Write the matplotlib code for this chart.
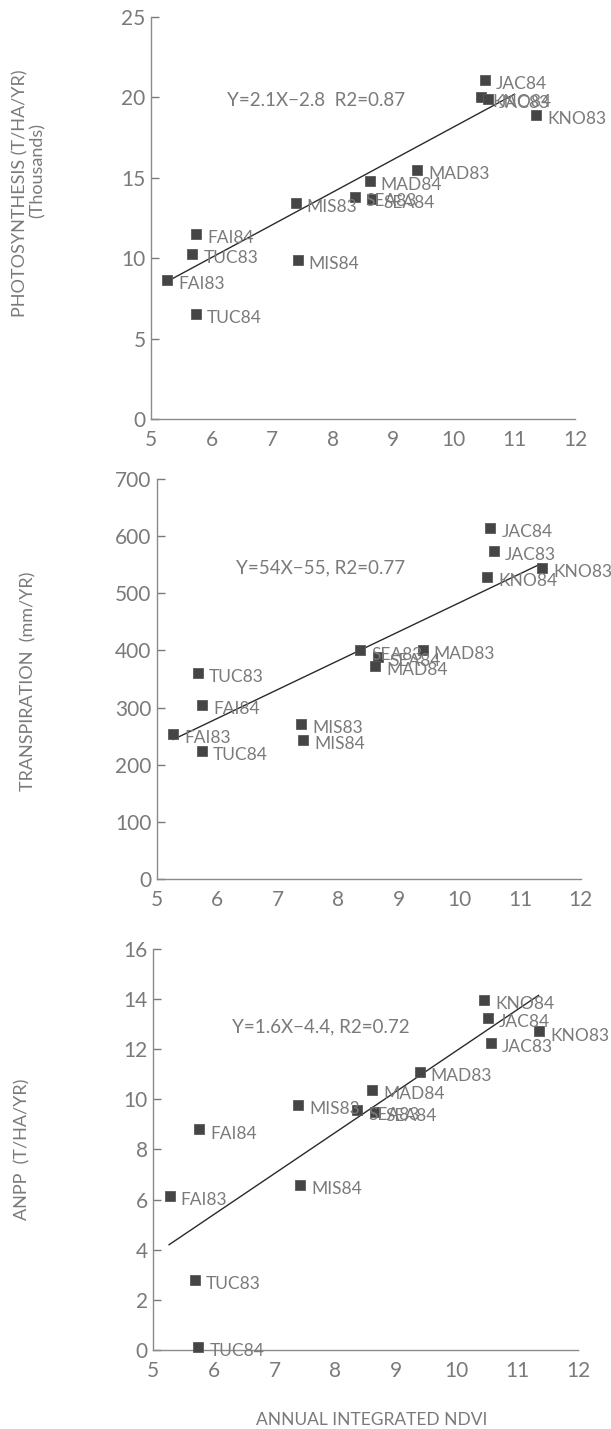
import numpy as np
import matplotlib
matplotlib.use("Agg")
import matplotlib.pyplot as plt

plt.rcParams['font.family'] = ['Lato', 'DejaVu Sans']

# Datos
sites = ["FAI83", "FAI84", "TUC83", "TUC84", "MIS83", "MIS84", "SEA83",
         "SEA84", "MAD83", "MAD84", "KNO83", "KNO84", "JAC83", "JAC84"]
ndvi = [5.27, 5.75, 5.68, 5.74, 7.39, 7.42, 8.36,
        8.65, 9.39, 8.61, 11.36, 10.45, 10.56, 10.51]

photo = [8.63, 11.5, 10.24, 6.51, 13.45, 9.89, 13.8,
         13.7, 15.5, 14.8, 18.9, 20.0, 19.9, 21.1]
transp = [254, 304, 361, 224, 272, 244, 400,
          389, 401, 373, 544, 529, 574, 615]
anpp = [6.14, 8.80, 2.81, 0.11, 9.77, 6.58, 9.56,
        9.51, 11.08, 10.37, 12.71, 13.98, 12.24, 13.24]

# rectas de regresion (extremos leidos)
fit1_x, fit1_y = [5.34, 11.0], [8.7, 20.2]
fit2_x, fit2_y = [5.27, 11.33], [244, 551]
fit3_x, fit3_y = [5.26, 11.35], [4.2, 14.15]

eq1 = "Y=2.1X\u22122.8  R2=0.87"
eq2 = "Y=54X\u221255, R2=0.77"
eq3 = "Y=1.6X\u22124.4, R2=0.72"

GRIS = "#7a7a7a"
EJE = "#8a8a8a"

fig = plt.figure(figsize=(6.11, 14.29), dpi=100)

paneles = [
    # rect, y, recta, ylim, yticks, ecuacion, posicion
    ([0.2471, 0.7068, 0.694, 0.2813], photo, (fit1_x, fit1_y), 25, range(0, 26, 5), eq1, (7.73, 19.8)),
    ([0.2565, 0.3849, 0.694, 0.2799], transp, (fit2_x, fit2_y), 700, range(0, 701, 100), eq2, (7.71, 544)),
    ([0.2509, 0.0553, 0.695, 0.2806], anpp, (fit3_x, fit3_y), 16, range(0, 17, 2), eq3, (7.76, 12.9)),
]

for rect, yv, fit, ymax, yt, eq, eqpos in paneles:
    ax = fig.add_axes(rect)
    ax.set_xlim(5, 12)
    ax.set_ylim(0, ymax)
    for s in ["top", "right"]:
        ax.spines[s].set_visible(False)
    for s in ["left", "bottom"]:
        ax.spines[s].set_color(EJE)
        ax.spines[s].set_linewidth(1.0)
    ax.set_xticks(range(5, 13))
    ax.set_yticks(list(yt))
    ax.tick_params(axis="x", length=0, pad=8, labelsize=15, colors=GRIS)
    ax.tick_params(axis="y", direction="in", length=6, width=1.0, pad=4,
                   labelsize=15, colors=GRIS)
    ax.plot(fit[0], fit[1], color="#2a2a2a", lw=1.0, zorder=2)
    ax.plot(ndvi, yv, ls="none", marker="s", ms=6.5, mfc="#454545",
            mec="#5a5a5a", mew=0.6, zorder=3, clip_on=False)
    for nombre, xx, yy in zip(sites, ndvi, yv):
        ax.annotate(nombre, (xx, yy), xytext=(8, -3), textcoords="offset points",
                    ha="left", va="center", fontsize=12.5, color=GRIS,
                    annotation_clip=False, zorder=4)
    ax.text(eqpos[0], eqpos[1], eq, ha="center", va="center", fontsize=13.5,
            color=GRIS)

# etiquetas de ejes
fig.text(20 / 611, 1 - 193 / 1429, "PHOTOSYNTHESIS (T/HA/YR)", rotation=90,
         ha="center", va="center", fontsize=13, color=GRIS)
fig.text(38 / 611, 1 - 170 / 1429, "(Thousands)", rotation=90,
         ha="center", va="center", fontsize=13, color=GRIS)
fig.text(28 / 611, 1 - 681 / 1429, "TRANSPIRATION  (mm/YR)", rotation=90,
         ha="center", va="center", fontsize=13, color=GRIS)
fig.text(22 / 611, 1 - 1149 / 1429, "ANPP  (T/HA/YR)", rotation=90,
         ha="center", va="center", fontsize=13, color=GRIS)
fig.text(372 / 611, 1 - 1420 / 1429, "ANNUAL INTEGRATED NDVI",
         ha="center", va="center", fontsize=12.5, color=GRIS)

fig.savefig("out.png", dpi=100)
